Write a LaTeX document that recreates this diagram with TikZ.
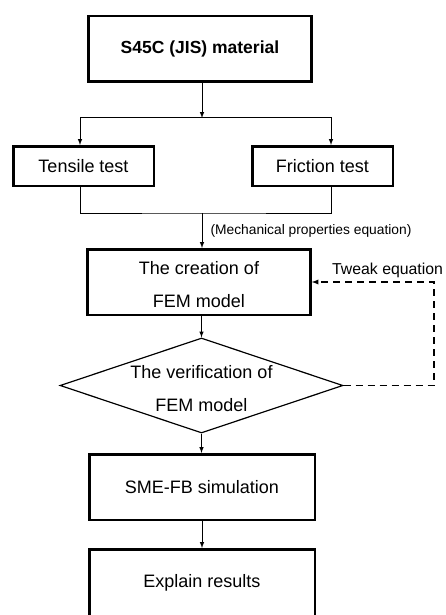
\documentclass[tikz,border=0pt]{standalone}
\usepackage{fontspec}
\setmainfont{Liberation Sans}
\usetikzlibrary{arrows,shapes.geometric,positioning}

\begin{document}
\begin{tikzpicture}[x=1pt, y=-1pt, >=latex, line width=1pt,
    block/.style={draw, line width=2.5pt, minimum width=223pt, minimum height=65.5pt,
      font=\fontsize{18}{33}\selectfont, align=center},
    twoline/.style={text height=50pt, text depth=-4pt},
    test/.style={block, minimum width=140.5pt, minimum height=39.5pt},
    check/.style={diamond, draw, line width=1.2pt, aspect=2.98, inner ysep=0pt, inner xsep=-6pt,
      minimum width=283pt, minimum height=95pt, font=\fontsize{18}{33}\selectfont, align=center,
      text height=51pt, text depth=-11pt},
    loopback/.style={->, dashed, dash pattern=on 7pt off 5pt, line width=1.3pt}]
    \useasboundingbox (0,0) rectangle (446,615);

    \node[block, font=\bfseries\fontsize{17.5}{33}\selectfont] (mat) at (200,49) {S45C (JIS) material};
    \node[test] (tens) at (83.5,166) {Tensile test};
    \node[test] (fric) at (322.5,166) {Friction test};
    \node[block, twoline] (crea) at (199,282) {The creation of\\FEM model};
    \node[check] (ver) at (201.5,385.5) {The verification of\\FEM model};
    \node[block, minimum width=225.5pt] (sim) at (202,487) {SME-FB simulation};
    \node[block, minimum width=225.5pt, minimum height=67.5pt] (expl) at (202,583) {Explain results};

    \coordinate (split) at (202,118);
    \coordinate (join) at (202,213);
    \coordinate (back) at (434,385.5);

    \draw[->] (mat.south -| split) -- (split);
    \draw[->] (split) -| ([xshift=-3.5pt]tens.north);
    \draw[->] (split) -| ([xshift=8.5pt]fric.north);
    \draw ([xshift=-3.5pt]tens.south) |- (join) -| ([xshift=8.5pt]fric.south);
    \draw[->] (join) -- node[right, inner sep=8pt, font=\fontsize{13.8}{15}\selectfont]
      {(Mechanical properties equation)} (join |- crea.north);
    \draw[->] (crea.south -| ver.north) -- (ver.north);
    \draw[->] (ver.south) -- (sim.north -| ver.south);
    \draw[->] (sim.south) -- (expl.north);
    \draw[loopback] (ver.east) -- (back) |- node[pos=0.69, above, font=\fontsize{15.8}{18}\selectfont]
      {Tweak equation} (crea.east);
  \end{tikzpicture}
\end{document}
